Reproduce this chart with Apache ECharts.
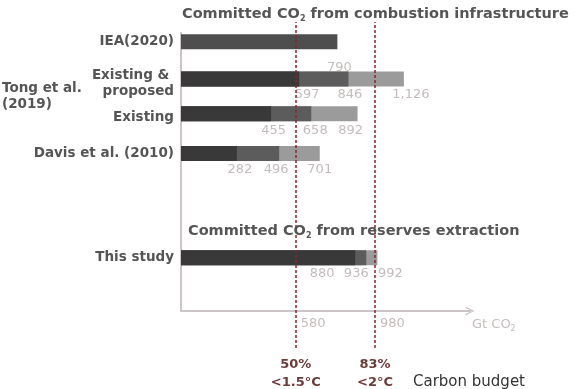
<!DOCTYPE html>
<html>
<head>
<meta charset="utf-8">
<script src="https://cdn.jsdelivr.net/npm/echarts@6/dist/echarts.min.js"></script>
<style>
  html, body { margin: 0; padding: 0; background: #fff; }
  #chart { width: 575px; height: 389px; }
</style>
</head>
<body>
<div id="chart"></div>
<script>
// rows, top to bottom
const rowNames = ["IEA(2020)", "Existing & \nproposed", "Existing", "Davis et al. (2010)", "This study"];
// cumulative committed CO2 (Gt) per row: low / mid / high estimate
const lowValues = [790, 597, 455, 282, 880];
const midValues = [null, 846, 658, 496, 936];
const highValues = [null, 1126, 892, 701, 992];

// carbon budgets
const budgetValues = [580, 980];
const budgetShares = ["50%", "83%"];
const budgetTargets = ["<1.5°C", "<2°C"];
const budgetTicks = [580, 980];

// layout only
const FONT = "DejaVu Sans";
const slotCount = 112;
const rowSlot = [3, 18, 32, 48, 90];
const rowLabelDrop = [0, 10, 8, 0, 0];
const lowShift = [[2, 18], [8, 8], [2.5, 9], [3, 9], [-33, 8]];
const midShift = [null, [1.5, 8], [4, 9], [-3, 9], [-10, 8]];
const highShift = [null, [7, 8], [-7, 9], [0, 9], [13, 8]];

const slotNames = new Array(slotCount).fill("");
rowSlot.forEach((s, i) => { slotNames[s] = rowNames[i]; });

const catFont = { fontFamily: FONT, fontWeight: "bold", fontSize: 13.5, lineHeight: 16, color: "#555" };
const catRich = {};
rowLabelDrop.forEach((d, i) => {
  catRich["r" + i] = Object.assign({ padding: [d, 0, 0, 0] }, catFont);
});

function catLabel(value) {
  const i = rowNames.indexOf(value);
  if (i < 0) return "";
  return value.split("\n").map((line) => "{r" + i + "|" + line + "}").join("\n");
}

function spread(values, shifts, extra) {
  const arr = new Array(slotCount).fill("-");
  values.forEach((v, i) => {
    if (v == null) return;
    const item = { value: v, label: { offset: shifts[i] } };
    if (extra && extra[i]) Object.assign(item, extra[i]);
    arr[rowSlot[i]] = item;
  });
  return arr;
}

function barSeries(name, values, shifts, color, extra) {
  return {
    name: name,
    type: "bar",
    barWidth: 15,
    barGap: "-100%",
    itemStyle: { color: color },
    label: {
      show: true,
      position: ["100%", "100%"],
      align: "center",
      verticalAlign: "middle",
      fontFamily: FONT,
      fontSize: 13,
      color: "#c4bcbc",
      formatter: (p) => p.value.toLocaleString("en-US"),
    },
    data: spread(values, shifts, extra),
  };
}

const subStyle = { fontFamily: FONT, fontWeight: "bold", fontSize: 8, lineHeight: 8, color: "#555", verticalAlign: "bottom" };
const headStyle = {
  fontFamily: FONT,
  fontWeight: "bold",
  fontSize: 14.5,
  lineHeight: 17,
  color: "#555",
  rich: { sub: subStyle },
};

const chart = echarts.init(document.getElementById("chart"));

const option = {
  animation: false,
  title: [
    { text: "Committed CO{sub|2} from combustion infrastructure", left: 182, top: 6, padding: 0, textStyle: headStyle },
    { text: "Committed CO{sub|2} from reserves extraction", left: 188, top: 223, padding: 0, textStyle: headStyle },
  ],
  graphic: [
    {
      type: "text",
      left: 2,
      top: 80,
      style: {
        text: "Tong et al.\n(2019)",
        font: "bold 13.5px " + FONT,
        lineHeight: 16,
        fill: "#555",
      },
    },
    {
      type: "text",
      left: 413,
      top: 375,
      style: {
        text: "Carbon budget",
        font: "15px " + FONT,
        fill: "#333",
      },
    },
  ],
  grid: [
    { left: 181, right: 105, top: 33, bottom: 78 },
    { left: 181, right: 105, top: 22, bottom: 41 },
  ],
  xAxis: [
    {
      type: "value",
      min: 0,
      max: 1460,
      splitLine: { show: false },
      axisTick: { show: false },
      axisLine: {
        show: true,
        lineStyle: { color: "#cbc5c5", width: 2 },
        symbol: ["none", "path://M0,10 L5,0 L10,10 L8.4,10 L5,3 L1.6,10 Z"],
        symbolSize: [10, 9],
      },
      axisLabel: {
        customValues: budgetTicks,
        align: "left",
        verticalAlign: "top",
        margin: 6,
        padding: [0, 0, 0, 5],
        fontFamily: FONT,
        fontSize: 13,
        color: "#c4bcbc",
      },
      name: "Gt CO{sub|2}",
      nameLocation: "end",
      nameGap: 2,
      nameTextStyle: {
        align: "left",
        verticalAlign: "top",
        padding: [6, 0, 0, 0],
        fontFamily: FONT,
        fontSize: 13,
        lineHeight: 16,
        color: "#c4bcbc",
        rich: { sub: { fontFamily: FONT, fontSize: 8, lineHeight: 8, color: "#c4bcbc", verticalAlign: "bottom" } },
      },
    },
    { gridIndex: 1, type: "value", min: 0, max: 1460, show: false },
  ],
  yAxis: [
    {
      type: "category",
      inverse: true,
      data: slotNames,
      axisTick: { show: false },
      axisLine: { show: true, lineStyle: { color: "#cbc5c5", width: 2 } },
      axisLabel: Object.assign({
        interval: 0,
        margin: 7,
        formatter: catLabel,
        rich: catRich,
      }, catFont),
    },
    { gridIndex: 1, type: "value", min: 0, max: 1, show: false },
  ],
  series: [
    barSeries("high", highValues, highShift, "#9b9b9b"),
    barSeries("mid", midValues, midShift, "#5c5c5c"),
    barSeries("low", lowValues, lowShift, "#393939", [{ itemStyle: { color: "#4e4e4e" } }]),
    {
      name: "budget",
      type: "line",
      xAxisIndex: 1,
      yAxisIndex: 1,
      data: [],
      markLine: {
        silent: true,
        symbol: "none",
        lineStyle: { color: "#8e2424", width: 1.5, type: [3, 2] },
        label: {
          position: "start",
          distance: 8,
          fontFamily: FONT,
          fontWeight: "bold",
          fontSize: 13,
          lineHeight: 18,
          color: "#6e3b3b",
          formatter: (p) => budgetShares[p.dataIndex] + "\n" + budgetTargets[p.dataIndex],
        },
        data: budgetValues.map((v) => ({ xAxis: v })),
      },
    },
  ],
};

chart.setOption(option);
</script>
</body>
</html>
